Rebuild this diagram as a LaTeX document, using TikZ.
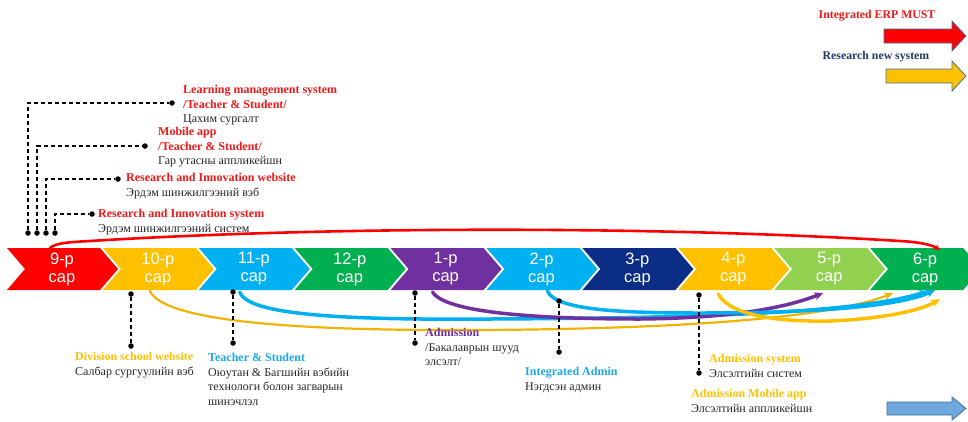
\documentclass[tikz,border=0pt]{standalone}
\usepackage{fontspec}
\setmainfont{Liberation Serif}
\newfontfamily\chevfont{Liberation Sans}
\usetikzlibrary{arrows.meta,calc}
\definecolor{cRed}{HTML}{FF0000}
\definecolor{cGold}{HTML}{FFC000}
\definecolor{cSky}{HTML}{00B0F0}
\definecolor{cGreen}{HTML}{00B050}
\definecolor{cPurple}{HTML}{7030A0}
\definecolor{cNavy}{HTML}{0B2D86}
\definecolor{cLime}{HTML}{92D050}
\definecolor{lblRed}{HTML}{F01818}
\definecolor{lblGold}{HTML}{FFC000}
\definecolor{lblSky}{HTML}{1AA8E8}
\definecolor{lblPurple}{HTML}{7030A0}
\definecolor{lblNavy}{HTML}{1F3864}
\definecolor{txtBlack}{HTML}{262626}
\definecolor{edgeBlue}{HTML}{41719C}
\definecolor{arrBlue}{HTML}{6FA8DC}
\definecolor{curveGold}{HTML}{F2B300}
\newcommand{\ttlc}[2]{\textcolor{#1}{\textbf{#2}}}
\begin{document}
\begin{tikzpicture}[x=1pt,y=-1pt]
\tikzset{
  chevtext/.style={text=white, font=\chevfont\fontsize{16.5}{18}\selectfont, align=center, inner sep=0pt},
  dotnode/.style={circle, fill=black, inner sep=0pt, minimum size=5.5pt},
  dashline/.style={black, line width=1.3pt, dash pattern=on 4pt off 3pt},
  lbl/.style={anchor=north west, inner sep=0pt, align=left, font=\fontsize{12}{14.6}\selectfont, text=txtBlack},
  ctr/.style={inner sep=0pt, font=\fontsize{11.8}{14}\selectfont\bfseries},
  curve/.style={line cap=round, -{Stealth[length=9pt,width=8pt]}},
  bigarrow/.style={draw=edgeBlue, line width=0.8pt}
}
\useasboundingbox (0,0) rectangle (968,421);
\clip (0,0) rectangle (968,421);

% chevrons
\foreach \i/\lab/\col in {0/9/cRed,1/10/cGold,2/11/cSky,3/12/cGreen,4/1/cPurple,5/2/cSky,6/3/cNavy,7/4/cGold,8/5/cLime,9/6/cGreen}{
  \pgfmathsetmacro\xo{7+95.9*\i}
  \fill[\col] (\xo,248) -- ++(93,0) -- ++(18,21) -- ++(-18,21) -- ++(-93,0) -- ++(18,-21) -- cycle;
  \node[chevtext] (c\lab) at (\xo+55,269) {\lab-р\\сар};
}

% curve end points
\coordinate (r0) at ($(c9)+(-12,-21)$);
\coordinate (r1) at ($(c6)+(15,-19)$);
\coordinate (o0) at ($(c10)+(-8,22)$);
\coordinate (o1) at ($(c6)+(-32,24)$);
\coordinate (b0) at ($(c11)+(-14,23)$);
\coordinate (b1) at ($(c6)+(3,22)$);
\coordinate (p0) at ($(c1)+(-13,23)$);
\coordinate (p1) at ($(c5)+(-6,24)$);
\coordinate (q0) at ($(c2)+(6,22)$);
\coordinate (q1) at ($(c6)+(10,21)$);
\coordinate (g0) at ($(c4)+(-15,25)$);
\coordinate (g1) at ($(c6)+(15,30)$);

% curves
\draw[curveGold, line width=2.2pt, curve] (o0) .. controls (165,322) and (300,331) .. (480,330) .. controls (680,329) and (830,318) .. (o1);
\draw[cSky, line width=3.5pt, curve] (b0) .. controls (248,316) and (350,320) .. (490,319) .. controls (700,318) and (860,313) .. (b1);
\draw[cPurple, line width=3.5pt, curve] (p0) .. controls (445,313) and (540,319) .. (640,319) .. controls (740,318) and (790,306) .. (p1);
\draw[cSky, line width=3.5pt, curve] (q0) .. controls (555,310) and (620,313) .. (700,313) .. controls (820,313) and (900,306) .. (q1);
\draw[cGold, line width=3.5pt, curve] (g0) .. controls (730,316) and (780,322) .. (830,321) .. controls (880,319) and (920,311) .. (g1);
\draw[cRed, line width=2.6pt, line cap=round, -{Stealth[length=6pt,width=6pt]}] (r0) .. controls (55,243) and (70,242) .. (90,241) .. controls (330,226) and (660,226) .. (900,241) .. controls (920,242) and (932,245) .. (r1);

% top-left labels with dashed connectors
\node[dotnode] (a1) at (28,233) {};
\node[dotnode] (a1e) at (172,103) {};
\node[dotnode] (a2) at (37,233) {};
\node[dotnode] (a2e) at (145,146) {};
\node[dotnode] (a3) at (46,233) {};
\node[dotnode] (a3e) at (118,179) {};
\node[dotnode] (a4) at (55,233) {};
\node[dotnode] (a4e) at (92,214) {};
\draw[dashline] (a1) |- (a1e);
\draw[dashline] (a2) |- (a2e);
\draw[dashline] (a3) |- (a3e);
\draw[dashline] (a4) |- (a4e);

\node[lbl] (t1) at (183,85) {\ttlc{lblRed}{Learning management system}\\\ttlc{lblRed}{/Teacher \& Student/}\\Цахим сургалт};
\node[lbl] (t2) at (158,127) {\ttlc{lblRed}{Mobile app}\\\ttlc{lblRed}{/Teacher \& Student/}\\Гар утасны аппликейшн};
\node[lbl] (t3) at (126,173) {\ttlc{lblRed}{Research and Innovation website}\\Эрдэм шинжилгээний вэб};
\node[lbl] (t4) at (98,209) {\ttlc{lblRed}{Research and Innovation system}\\Эрдэм шинжилгээний систем};

% bottom labels with dashed connectors
\node[dotnode] (e1) at (131,294) {};
\node[dotnode] (e1e) at (131,346) {};
\node[dotnode] (e2) at (233,292) {};
\node[dotnode] (e2e) at (233,343) {};
\node[dotnode] (e3) at (415,293) {};
\node[dotnode] (e3e) at (415,343) {};
\node[dotnode] (e4) at (559,301) {};
\node[dotnode] (e4e) at (559,352) {};
\node[dotnode] (e5) at (699,295) {};
\node[dotnode] (e5e) at (699,373) {};
\draw[dashline] (e1) -- (e1e);
\draw[dashline] (e2) -- (e2e);
\draw[dashline] (e3) -- (e3e);
\draw[dashline] (e4) -- (e4e);
\draw[dashline] (e5) -- (e5e);

\node[lbl] (u1) at (75,352) {\ttlc{lblGold}{Division school website}\\Салбар сургуулийн вэб};
\node[lbl] (u2) at (208,353) {\ttlc{lblSky}{Teacher \& Student}\\Оюутан \& Багшийн вэбийн\\технологи болон загварын\\шинэчлэл};
\node[lbl] (u3) at (425,328) {\ttlc{lblPurple}{Admission}\\/Бакалаврын шууд\\элсэлт/};
\node[lbl] (u4) at (525,367) {\ttlc{lblSky}{Integrated Admin}\\Нэгдсэн админ};
\node[lbl] (u5) at (709,354) {\ttlc{lblGold}{Admission system}\\Элсэлтийн систем};
\node[lbl] (u6) at (691,389) {\ttlc{lblGold}{Admission Mobile app}\\Элсэлтийн аппликейшн};

% legend
\node[ctr, text=lblRed] (lg1) at (877,16) {Integrated ERP MUST};
\node[ctr, text=lblNavy] (lg2) at (876,57) {Research new system};
\draw[bigarrow, fill=cRed] (884,29) -- (952,29) -- (952,21) -- (966,36) -- (952,51) -- (952,43) -- (884,43) -- cycle;
\draw[bigarrow, fill=cGold] (886,69) -- (952,69) -- (952,61) -- (966,76) -- (952,91) -- (952,83) -- (886,83) -- cycle;
\draw[bigarrow, fill=arrBlue] (887,402) -- (952,402) -- (952,397) -- (966,408.5) -- (952,420) -- (952,415) -- (887,415) -- cycle;
\end{tikzpicture}
\end{document}
